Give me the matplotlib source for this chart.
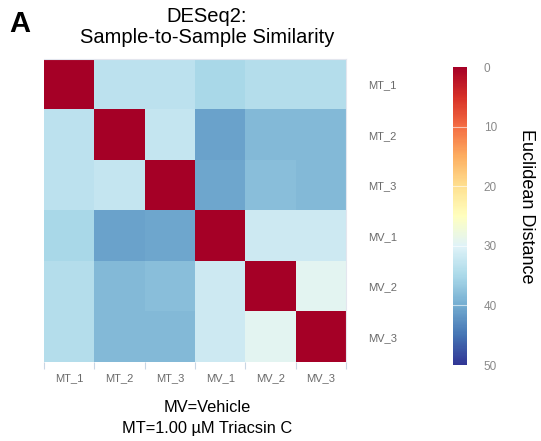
import matplotlib.pyplot as plt
import numpy as np

plt.rcParams['font.family'] = ['Liberation Sans', 'DejaVu Sans']

samples = ['MT_1', 'MT_2', 'MT_3', 'MV_1', 'MV_2', 'MV_3']

# Euclidean distances between samples (rows top to bottom, cols left to right)
row_mt1 = [0.0, 33.3, 33.3, 35.0, 34.0, 34.0]
row_mt2 = [33.3, 0.0, 32.5, 41.0, 38.6, 38.6]
row_mt3 = [33.3, 32.5, 0.0, 40.5, 38.0, 38.6]
row_mv1 = [35.0, 41.0, 40.5, 0.0, 31.8, 31.8]
row_mv2 = [34.0, 38.6, 38.0, 31.8, 0.0, 29.3]
row_mv3 = [34.0, 38.6, 38.6, 31.8, 29.3, 0.0]

cbar_ticks = [0, 10, 20, 30, 40, 50]

dist = np.array([row_mt1, row_mt2, row_mt3, row_mv1, row_mv2, row_mv3])

W, H = 541, 441
fig = plt.figure(figsize=(W / 100, H / 100), dpi=100)

# heatmap
ax = fig.add_axes([44 / W, 1 - 362 / H, 302 / W, 303 / H])
im = ax.imshow(dist, cmap='RdYlBu', vmin=0, vmax=50, aspect='auto',
               interpolation='nearest')

ax.set_yticks(range(len(samples)))
ax.set_yticklabels(samples)
ax.yaxis.tick_right()
ax.tick_params(axis='y', length=0, pad=16, labelsize=8, labelcolor='#6b6b6b')

ax.set_xticks(range(len(samples)))
ax.set_xticklabels(samples)
ax.tick_params(axis='x', length=0, pad=8, labelsize=8, labelcolor='#6b6b6b')
# small marks at cell borders
ax.set_xticks(np.arange(-0.5, len(samples)), minor=True)
ax.tick_params(axis='x', which='minor', length=5, width=0.8, color='#c9d6e4')
ax.tick_params(axis='y', which='minor', length=0)

for side in ['left', 'bottom']:
    ax.spines[side].set_visible(False)
for side in ['top', 'right']:
    ax.spines[side].set_color('#e3e6ee')
    ax.spines[side].set_linewidth(0.8)

fig.text(207 / W, 1 - 27 / H, 'DESeq2:\nSample-to-Sample Similarity',
         ha='center', va='center', fontsize=14.5, linespacing=1.1)

fig.text(9 / W, 1 - 32 / H, 'A', fontsize=21, fontweight='bold')

fig.text(207 / W, 1 - 407 / H, 'MV=Vehicle', ha='center', va='center',
         fontsize=11.8)
fig.text(207 / W, 1 - 428 / H, 'MT=1.00 \u00b5M Triacsin C', ha='center',
         va='center', fontsize=11.8)

# colorbar
cax = fig.add_axes([453 / W, 1 - 365 / H, 14 / W, 298 / H])
cbar = fig.colorbar(im, cax=cax, ticks=cbar_ticks)
cbar.outline.set_visible(False)
cax.invert_yaxis()
cax.tick_params(length=0, pad=12, labelsize=8.5, labelcolor='#8a8a8a')
for t in cbar_ticks[1:-1]:
    cax.axhline(t, color='white', linewidth=0.8, alpha=0.6)
fig.text(527 / W, 1 - 206 / H, 'Euclidean Distance', rotation=270,
         ha='center', va='center', fontsize=13)

fig.savefig('out.png', dpi=100)
